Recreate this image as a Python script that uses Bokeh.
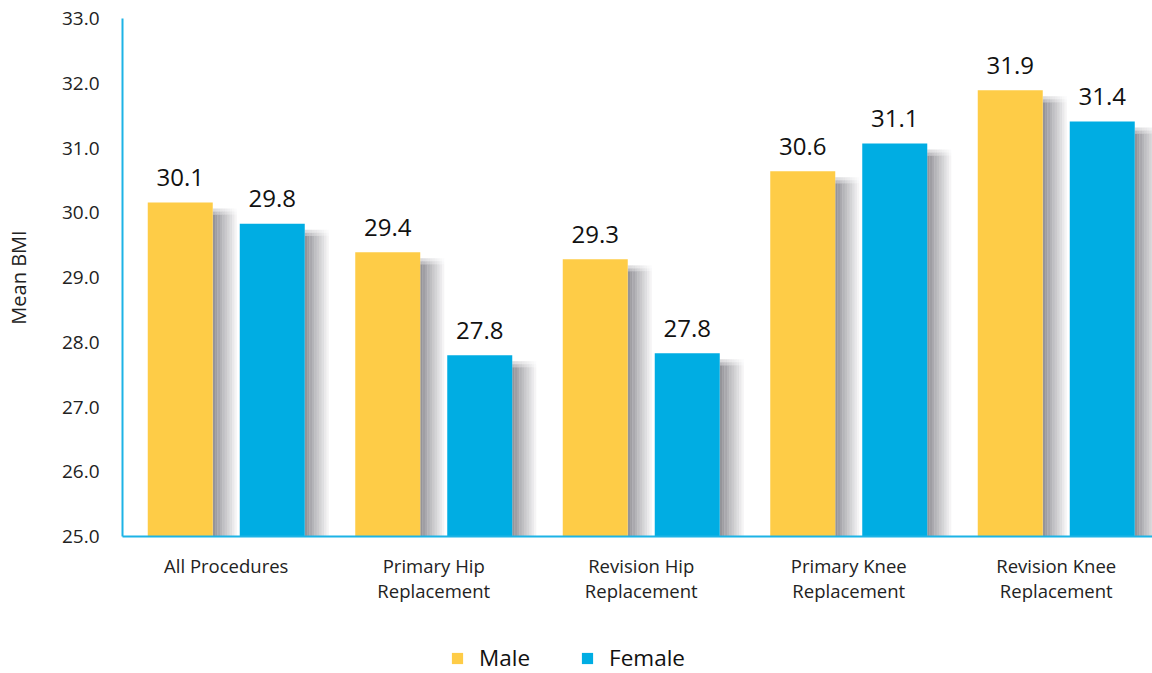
import numpy as np
from bokeh.plotting import figure
from bokeh.layouts import column
from bokeh.models import (ColumnDataSource, FixedTicker, PrintfTickFormatter,
                          Legend, LegendItem, Range1d)
from bokeh.core.properties import value
from bokeh.embed import file_html
from bokeh.resources import INLINE

# ---- data ----
categories = ["All Procedures", "Primary Hip\nReplacement", "Revision Hip\nReplacement",
              "Primary Knee\nReplacement", "Revision Knee\nReplacement"]
male = [30.16, 29.39, 29.28, 30.64, 31.89]
female = [29.83, 27.80, 27.83, 31.07, 31.41]
male_labels = ["30.1", "29.4", "29.3", "30.6", "31.9"]
female_labels = ["29.8", "27.8", "27.8", "31.1", "31.4"]
y_ticks = [25, 26, 27, 28, 29, 30, 31, 32, 33]
series_names = ["Male", "Female"]

MALE_C = "#FECC47"
FEMALE_C = "#00ADE3"
AXIS_C = "#1DB3E6"
FONT = "Open Sans"

W = 1152
H_MAIN, H_LEG = 620, 53
LEFT, TOP, BOTTOM = 122, 18, 84
cat_px = 207.5
frame_w = W - LEFT
frame_h = H_MAIN - TOP - BOTTOM
x_end = frame_w / cat_px
px_x = 1.0 / cat_px                 # data units per pixel (x)
px_y = (33 - 25) / frame_h          # data units per pixel (y)

centers = np.arange(len(categories)) + 0.5
off = 46 * px_x
bw = 65 * px_x
xm = centers - off
xf = centers + off

p = figure(width=W, height=H_MAIN, output_backend="svg", toolbar_location=None,
           x_range=Range1d(0, x_end), y_range=Range1d(25, 33),
           min_border_left=LEFT, min_border_right=0, min_border_top=TOP,
           min_border_bottom=BOTTOM)
p.outline_line_color = None
p.xgrid.visible = False
p.ygrid.visible = False
p.background_fill_color = "white"
p.border_fill_color = "white"

# ---- soft shadows to the right of each bar ----
n_strips = 10
sw = 2.4 * px_x
for xs_, vals in ((xm, male), (xf, female)):
    vals = np.array(vals)
    for i in range(n_strips):
        a = 0.8 * (1 - i / n_strips) ** 1.0
        for j, (dy, fa) in enumerate(((6, 0.35), (9, 0.65), (12, 1.0))):
            top = vals - dy * px_y
            bottom = (vals - (dy + 3) * px_y) if j < 2 else np.full_like(vals, 25.0)
            p.vbar(x=xs_ + bw / 2 + (i + 0.5) * sw, top=top, bottom=bottom,
                   width=sw * 1.02, fill_color="#7a7980", fill_alpha=a * fa,
                   line_color=None)

# ---- bars ----
src_m = ColumnDataSource(dict(x=xm, top=male, lab=male_labels))
src_f = ColumnDataSource(dict(x=xf, top=female, lab=female_labels))
p.vbar(x="x", top="top", bottom=25, width=bw, source=src_m,
       fill_color=MALE_C, line_color=None)
p.vbar(x="x", top="top", bottom=25, width=bw, source=src_f,
       fill_color=FEMALE_C, line_color=None)

for src in (src_m, src_f):
    p.text(x="x", y="top", text="lab", source=src, text_align="center",
           text_baseline="middle", y_offset=-25, text_font=value(FONT),
           text_font_size="24px", text_color="#111111")

# ---- axes ----
p.xaxis.ticker = FixedTicker(ticks=list(centers))
p.xaxis.major_label_overrides = {float(c): lab for c, lab in zip(centers, categories)}
p.yaxis.ticker = FixedTicker(ticks=y_ticks)
p.yaxis.formatter = PrintfTickFormatter(format="%.1f")
for ax in (p.xaxis[0], p.yaxis[0]):
    ax.axis_line_color = AXIS_C
    ax.axis_line_width = 2
    ax.major_tick_line_color = None
    ax.minor_tick_line_color = None
    ax.major_label_text_font = FONT
    ax.major_label_text_color = "#222222"
p.yaxis.major_label_text_font_size = "19px"
p.yaxis.major_label_standoff = 17
p.xaxis.major_label_text_font_size = "18.5px"
p.xaxis.major_label_text_line_height = 1.0
p.xaxis.major_label_standoff = 10
p.yaxis.axis_label = "Mean BMI"
p.yaxis.axis_label_text_font = FONT
p.yaxis.axis_label_text_font_size = "20px"
p.yaxis.axis_label_text_font_style = "normal"
p.yaxis.axis_label_text_color = "#222222"
p.yaxis.axis_label_standoff = 27

# ---- legend (separate strip below the chart) ----
lg = figure(width=W, height=H_LEG, output_backend="svg", toolbar_location=None,
            x_axis_type=None, y_axis_type=None, min_border=0,
            x_range=Range1d(100, 101), y_range=Range1d(100, 101))
lg.outline_line_color = None
lg.xgrid.visible = False
lg.ygrid.visible = False
dm = lg.vbar(x=xm[:1], top=male[:1], width=bw, fill_color=MALE_C, line_color=None)
df = lg.vbar(x=xf[:1], top=female[:1], width=bw, fill_color=FEMALE_C, line_color=None)
legend = Legend(items=[LegendItem(label=series_names[0], renderers=[dm]),
                       LegendItem(label=series_names[1], renderers=[df])],
                orientation="horizontal", location=(328, 0),
                glyph_width=14, glyph_height=14, label_standoff=15, spacing=50,
                label_height=20,
                label_text_font=FONT, label_text_font_size="22.5px",
                label_text_color="#111111", padding=0, margin=0,
                border_line_color=None, background_fill_alpha=0)
lg.add_layout(legend, "center")

layout = column(p, lg, spacing=0)
open("out.html", "w").write(file_html(layout, INLINE))
